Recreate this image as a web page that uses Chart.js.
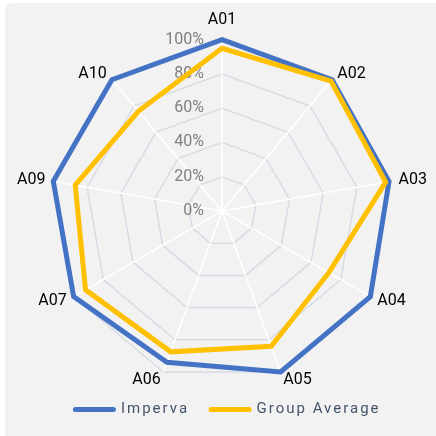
<!DOCTYPE html>
<html><head><meta charset="utf-8">
<script src="https://cdn.jsdelivr.net/npm/chart.js@4"></script>
<style>
html,body{margin:0;padding:0;background:#fff;width:436px;height:436px;overflow:hidden}
#card{position:absolute;left:5px;top:3px;width:450px;height:450px;background:#f2f2f2;border-radius:8px}
#wrap{position:absolute;left:0;top:0;width:436px;height:436px}
</style></head><body>
<div id="card"></div>
<div id="wrap"><canvas id="c" width="436" height="436"></canvas></div>
<script>
const categories = ['A01','A02','A03','A04','A05','A06','A07','A09','A10'];
const seriesNames = ['Imperva','Group Average'];
const impervaValues = [100, 100, 99, 100, 100, 94, 100, 100, 100];
const groupAverageValues = [95, 99, 97, 72, 84, 87.5, 92, 87, 76];
const tickValues = [0, 20, 40, 60, 80, 100];
const tickLabels = ['0%', '20%', '40%', '60%', '80%', '100%'];
const seriesColors = ['#4472c4', '#ffc000'];

const LEGEND_PAD = 22;
const LEGEND_TEXT_Y = 409.5;
const LEGEND_SHIFT_X = 5;

const tickLabelPlugin = {
  id: 'tickLabels',
  beforeDatasetsDraw(chart) {
    const s = chart.scales.r, ctx = chart.ctx;
    ctx.save();
    ctx.font = '16px Roboto';
    ctx.fillStyle = '#7f7f7f';
    ctx.textAlign = 'right';
    ctx.textBaseline = 'middle';
    tickValues.forEach((v, i) => {
      ctx.fillText(tickLabels[i], s.xCenter - 18, s.yCenter - s.getDistanceFromCenterForValue(v));
    });
    ctx.restore();
  }
};

const legendTweakPlugin = {
  id: 'legendTweak',
  afterInit(chart) {
    const L = chart.legend;
    if (!L) return;
    const of = L.fit, od = L.draw;
    L.fit = function () {
      const c = this.ctx;
      c.save(); c.letterSpacing = '2px';
      of.apply(this, arguments);
      c.restore();
      this._fullH = this.height;
      this.height = 0;
    };
    L.draw = function () {
      const c = this.ctx;
      const t = this.top, b = this.bottom, l = this.left, r = this.right;
      this.top = LEGEND_TEXT_Y - 7.5 - LEGEND_PAD;
      this.bottom = this.top + (this._fullH || 60);
      this.left = l + LEGEND_SHIFT_X; this.right = r + LEGEND_SHIFT_X;
      c.save(); c.letterSpacing = '2px';
      od.apply(this, arguments);
      c.restore();
      this.top = t; this.bottom = b; this.left = l; this.right = r;
    };
  }
};

new Chart(document.getElementById('c'), {
  type: 'radar',
  data: {
    labels: categories,
    datasets: [
      { label: seriesNames[0], data: impervaValues, borderColor: seriesColors[0], backgroundColor: seriesColors[0],
        borderWidth: 5, fill: false, pointRadius: 0, pointHoverRadius: 0, borderJoinStyle: 'miter', order: 1 },
      { label: seriesNames[1], data: groupAverageValues, borderColor: seriesColors[1], backgroundColor: seriesColors[1],
        borderWidth: 5, fill: false, pointRadius: 0, pointHoverRadius: 0, borderJoinStyle: 'miter', order: 0 }
    ]
  },
  options: {
    responsive: false,
    animation: false,
    events: [],
    devicePixelRatio: 1,
    layout: { padding: { top: 9, left: 18, right: 8, bottom: 43 } },
    scales: {
      r: {
        min: 0, max: 100,
        ticks: { stepSize: 20, display: false },
        grid: { color: '#d6dce5', lineWidth: 1.5 },
        angleLines: { color: '#ffffff', lineWidth: 1.5 },
        pointLabels: {
          font: () => ({ family: 'Roboto', size: 16, lineHeight: 0.01 }),
          color: '#000000',
          padding: (ctx) => (ctx.index === 0 ? 20 : 8)
        }
      }
    },
    plugins: {
      tooltip: { enabled: false },
      legend: {
        position: 'bottom',
        labels: {
          usePointStyle: true,
          pointStyleWidth: 38,
          padding: LEGEND_PAD,
          color: '#44546a',
          font: { family: 'Roboto', size: 15 },
          sort: (a, b) => a.datasetIndex - b.datasetIndex,
          generateLabels: (chart) => chart.data.datasets.map((ds, i) => ({
            text: ds.label, fillStyle: ds.borderColor, strokeStyle: ds.borderColor,
            lineWidth: 5, lineCap: 'round', pointStyle: 'line', hidden: false,
            datasetIndex: i, fontColor: '#44546a'
          }))
        }
      }
    }
  },
  plugins: [tickLabelPlugin, legendTweakPlugin]
});
</script>
</body></html>
